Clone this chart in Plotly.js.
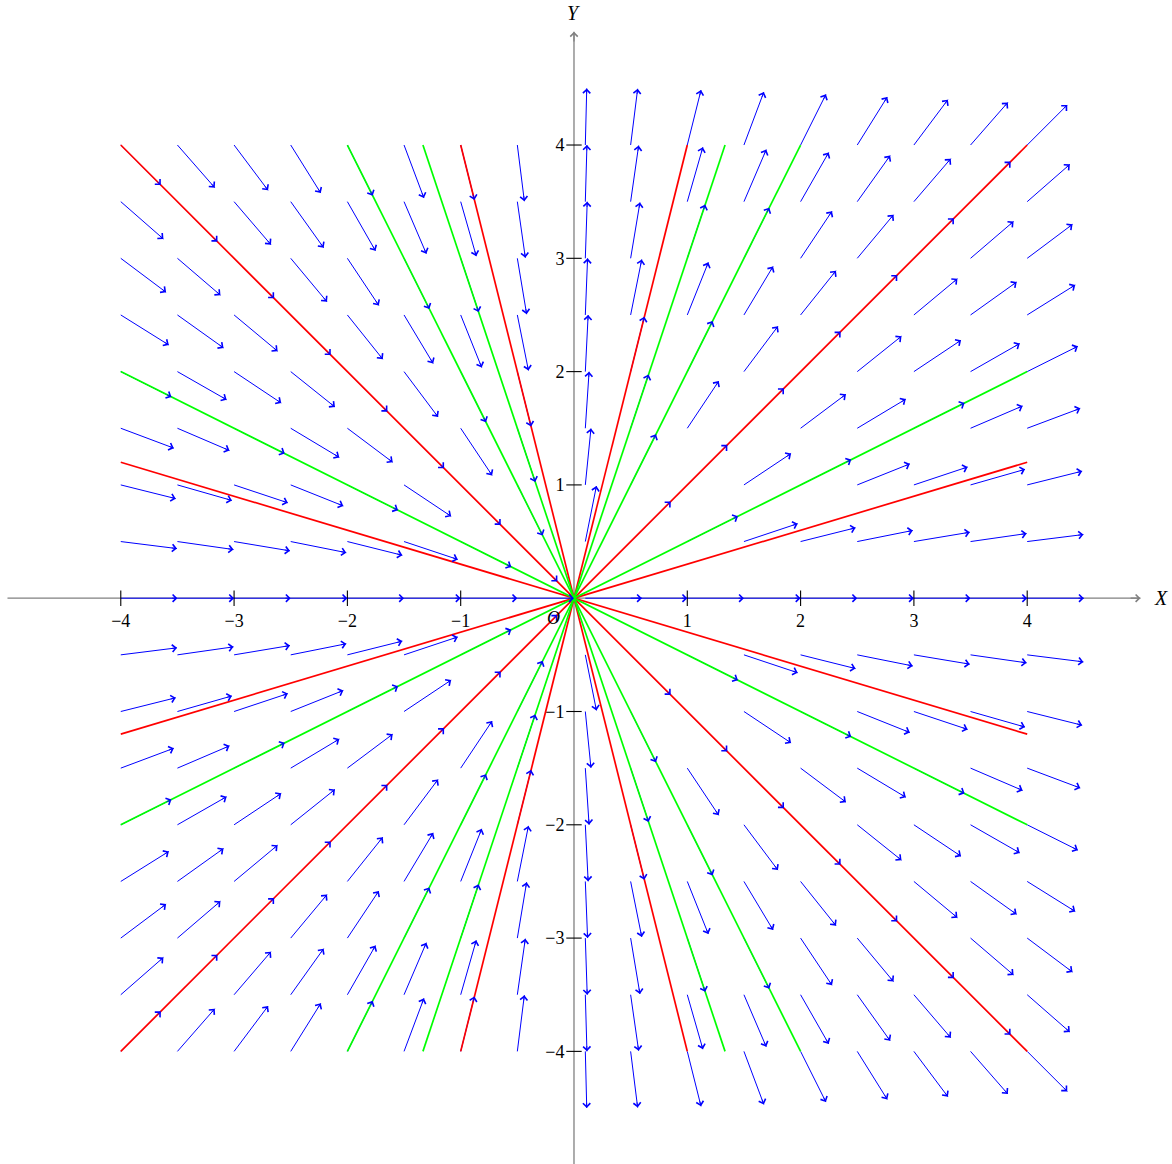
<!DOCTYPE html>
<html><head><meta charset="utf-8">
<script src="https://cdn.plot.ly/plotly-3.0.1.min.js"></script>
<style>html,body{margin:0;padding:0;background:#fff;} #chart{width:1172px;height:1164px;}</style>
</head><body><div id="chart"></div>
<script>
// Base points of the direction field for dy/dx = y/x (column x=0 replaced by 0.1)
const gridX = [-4,-3.5,-3,-2.5,-2,-1.5,-1,-0.5,0.1,0.5,1,1.5,2,2.5,3,3.5,4];
const gridY = [-4,-3.5,-3,-2.5,-2,-1.5,-1,-0.5,0,0.5,1,1.5,2,2.5,3,3.5,4];
const arrowLength = 0.5;

// Solution lines y = m x (clipped to the square |x|,|y| <= 4)
const redSlopes = [1,-1,0.3,-0.3,4,-4];
const greenSlopes = [0.5,-0.5,2,-2,3,-3];
const lineLimit = 4;

// Axes
const tickValues = [-4,-3,-2,-1,1,2,3,4];
const tickLabels = ['\u22124','\u22123','\u22122','\u22121','1','2','3','4'];
const axisExtent = 5;

const BLUE = '#0000ff', RED = '#ff0000', GREEN = '#00ff00', GRAY = '#808080';

// Build arrow shafts and heads
const shaftX = [], shaftY = [], heads = [];
const eps = 0.06;
gridX.forEach(x0 => {
  gridY.forEach(y0 => {
    const slope = y0 / x0;
    const n = Math.sqrt(1 + slope * slope);
    const ux = 1 / n, uy = slope / n;
    const x1 = x0 + arrowLength * ux, y1 = y0 + arrowLength * uy;
    shaftX.push(x0, x1, null);
    shaftY.push(y0, y1, null);
    heads.push({
      x: x1, y: y1, ax: x1 - eps * ux, ay: y1 - eps * uy,
      xref: 'x', yref: 'y', axref: 'x', ayref: 'y',
      text: '', showarrow: true, arrowhead: 4, arrowsize: 1.5, arrowwidth: 0.95,
      arrowcolor: BLUE, standoff: 0
    });
  });
});

function lineTrace(m, color) {
  const xm = Math.min(lineLimit, lineLimit / Math.abs(m));
  return {
    x: [-xm, xm], y: [-m * xm, m * xm], mode: 'lines', type: 'scatter',
    line: {color: color, width: 1.7}, hoverinfo: 'skip'
  };
}

const traces = [];
traces.push({x: shaftX, y: shaftY, mode: 'lines', type: 'scatter',
  line: {color: BLUE, width: 1.0}, hoverinfo: 'skip'});
redSlopes.forEach(m => traces.push(lineTrace(m, RED)));
greenSlopes.forEach(m => traces.push(lineTrace(m, GREEN)));
// tick marks crossing the axes
traces.push({x: tickValues, y: tickValues.map(() => 0), mode: 'markers', type: 'scatter',
  marker: {symbol: 'line-ns-open', size: 11, color: '#000', line: {width: 1.1, color: '#000'}}, hoverinfo: 'skip'});
traces.push({x: tickValues.map(() => 0), y: tickValues, mode: 'markers', type: 'scatter',
  marker: {symbol: 'line-ew-open', size: 11, color: '#000', line: {width: 1.1, color: '#000'}}, hoverinfo: 'skip'});

const serif = '"Liberation Serif", "DejaVu Serif", serif';
const annotations = heads.slice();
// axis arrow heads
annotations.push({x: axisExtent, y: 0, ax: axisExtent - 0.1, ay: 0, xref:'x', yref:'y', axref:'x', ayref:'y',
  text:'', showarrow:true, arrowhead:4, arrowsize:1.2, arrowwidth:1.2, arrowcolor:GRAY, standoff:0});
annotations.push({x: 0, y: axisExtent, ax: 0, ay: axisExtent - 0.1, xref:'x', yref:'y', axref:'x', ayref:'y',
  text:'', showarrow:true, arrowhead:4, arrowsize:1.2, arrowwidth:1.2, arrowcolor:GRAY, standoff:0});
annotations.push({x: axisExtent, y: 0, xref:'x', yref:'y', text:'<i>X</i>', showarrow:false,
  xanchor:'center', yanchor:'middle', xshift: 20, font:{family: serif, size: 20, color:'#000'}});
annotations.push({x: 0, y: axisExtent, xref:'x', yref:'y', text:'<i>Y</i>', showarrow:false,
  xanchor:'center', yanchor:'middle', yshift: 19, font:{family: serif, size: 20, color:'#000'}});
annotations.push({x: 0, y: 0, xref:'x', yref:'y', text:'<i>O</i>', showarrow:false,
  xanchor:'center', yanchor:'middle', xshift: -20, yshift: -20, font:{family: serif, size: 18, color:'#000'}});

const layout = {
  width: 1172, height: 1164,
  margin: {l: 0, r: 0, t: 0, b: 0, pad: 0},
  paper_bgcolor: '#fff', plot_bgcolor: '#fff',
  showlegend: false,
  xaxis: {range: [-5.066, 5.278], showgrid: false, zeroline: false, showline: false,
    tickvals: tickValues, ticktext: tickLabels, ticks: 'outside', ticklen: 6, tickcolor: 'rgba(0,0,0,0)',
    anchor: 'free', position: 0.48608, tickfont: {family: serif, size: 18, color: '#000'}},
  yaxis: {range: [-4.994, 5.280], showgrid: false, zeroline: false, showline: false,
    tickvals: tickValues, ticktext: tickLabels, ticks: 'outside', ticklen: 6, tickcolor: 'rgba(0,0,0,0)',
    anchor: 'free', position: 0.48976, tickfont: {family: serif, size: 18, color: '#000'}},
  shapes: [
    {type: 'line', xref: 'x', yref: 'y', x0: -axisExtent, x1: axisExtent, y0: 0, y1: 0, layer: 'below', line: {color: GRAY, width: 1.3}},
    {type: 'line', xref: 'x', yref: 'y', x0: 0, x1: 0, y0: -axisExtent, y1: axisExtent, layer: 'below', line: {color: GRAY, width: 1.3}}
  ],
  annotations: annotations
};

Plotly.newPlot('chart', traces, layout, {displayModeBar: false, staticPlot: true});
</script>
</body></html>
